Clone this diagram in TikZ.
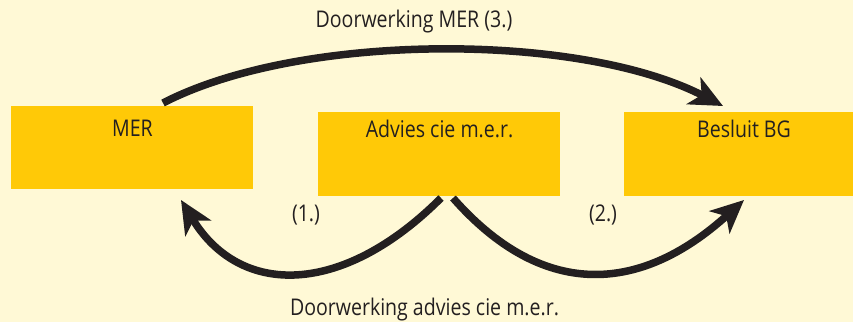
\documentclass[tikz,border=0pt]{standalone}
\usepackage{fontspec}
\setmainfont[FakeStretch=0.85]{Open Sans}
\usetikzlibrary{arrows.meta}
\definecolor{bg}{HTML}{FFF9D6}
\definecolor{boxc}{HTML}{FFC907}
\definecolor{ink}{HTML}{231F20}
\begin{document}
\begin{tikzpicture}[x=1pt,y=-1pt,
  box/.style={fill=boxc, draw=none, minimum width=#1, minimum height=84pt, inner sep=0pt, outer sep=0pt},
  lbl/.style={font=\fontsize{23}{27}\selectfont, text=ink, anchor=base, inner sep=0pt},
  conn/.style={draw=ink, line width=7.5pt, line cap=butt, -{Stealth[length=33pt,width=30pt,inset=9pt]}}]
\fill[bg] (0,0) rectangle (853,322);
\useasboundingbox (0,0) rectangle (853,322);
% boxes
\node[box=242pt, minimum height=83pt] (mer) at (132,147.5) {};
\node[box=242pt] (advies) at (439,154) {};
\node[box=229pt] (besluit) at (738.5,154) {};
% labels
\node[lbl] (merlbl) at (132.5,136.7) {MER};
\node[lbl] (advieslbl) at (439.5,137) {Advies cie m.e.r.};
\node[lbl] (besluitlbl) at (744,137) {Besluit BG};
\node[lbl] (toplbl) at (414,27.7) {Doorwerking MER (3.)};
\node[lbl] (botlbl) at (424.5,315) {Doorwerking advies cie m.e.r.};
\node[lbl] (one) at (306,221.7) {(1.)};
\node[lbl] (two) at (603,221.7) {(2.)};
% connector ends
\coordinate (s3) at (163,103);
\coordinate (t3) at (723,106);
\coordinate (s1) at (441,198);
\coordinate (t1) at (181,200);
\coordinate (s2) at (453,198);
\coordinate (t2) at (744,200);
% connectors
\draw[conn] (s3) .. controls (300,32) and (580,32) .. (t3);
\draw[conn] (s1) .. controls (342,297) and (240,297) .. (t1);
\draw[conn] (s2) .. controls (540,297) and (637,297) .. (t2);
\end{tikzpicture}
\end{document}
